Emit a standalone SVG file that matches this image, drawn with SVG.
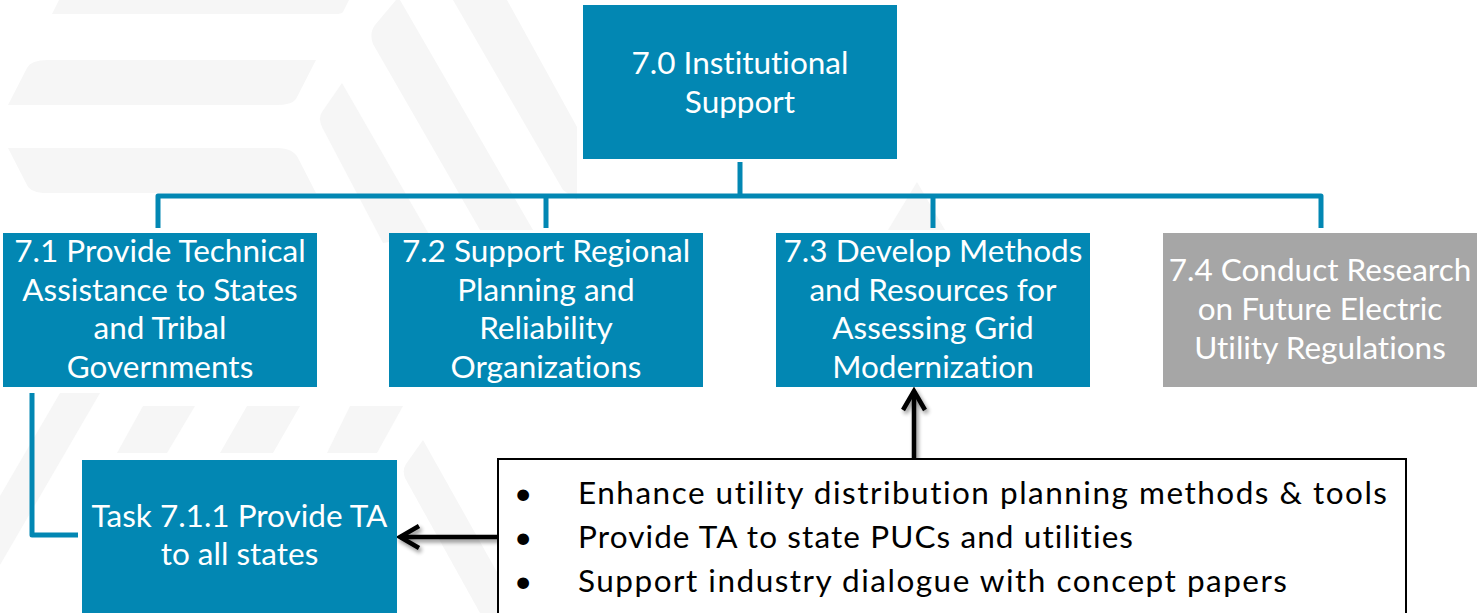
<svg xmlns="http://www.w3.org/2000/svg" width="1479" height="613" viewBox="0 0 1479 613">
  <defs>
    <style>
      .wm { fill: #F6F6F6; }
      .blue { fill: #0287B3; }
      .gray { fill: #A6A6A6; }
      .t { font-family: Lato, "Open Sans", "Liberation Sans", sans-serif; font-size: 31.5px; fill: #FFFFFF; text-anchor: middle; font-variant-ligatures: none; }
      .b { font-family: Lato, "Open Sans", "Liberation Sans", sans-serif; font-size: 31.5px; fill: #000000; font-variant-ligatures: none; }
      .conn { fill: none; stroke: #0287B3; stroke-width: 5; stroke-linejoin: round; }
      .arr { fill: none; stroke: #000000; stroke-width: 4.5; }
    </style>
    <filter id="sh" x="-50%" y="-50%" width="200%" height="200%">
      <feGaussianBlur in="SourceAlpha" stdDeviation="2"/>
      <feOffset dx="2" dy="3" result="o"/>
      <feComponentTransfer><feFuncA type="linear" slope="0.45"/></feComponentTransfer>
      <feMerge><feMergeNode/><feMergeNode in="SourceGraphic"/></feMerge>
    </filter>
    <marker id="head" viewBox="-24 -14 28 28" markerWidth="28" markerHeight="28" refX="0" refY="0" orient="auto" markerUnits="userSpaceOnUse">
      <path d="M-19,-11 L0,0 L-19,11" fill="none" stroke="#000" stroke-width="4.5" stroke-linejoin="miter"/>
    </marker>
  </defs>

  <rect width="1479" height="613" fill="#FFFFFF"/>

  <!-- faint watermark -->
  <g id="watermark">
    <path class="wm" d="M59,0 H349 L343,12 Q341,14 336,14 H52 Z"/>
    <path class="wm" d="M48,60 H316 L296,99 Q292,105 276,105 H8 L27,68 Q31,60 48,60 Z"/>
    <path class="wm" d="M8,148 H277 Q293,148 298,158 L316,193 H47 Q31,193 27,185 Z"/>
    <path class="wm" d="M342,83 L430,236 L383,243 L322,127 Q318,118 322,112 Z"/>
    <path class="wm" d="M396,0 H400 L533,230 L480,230 L373,44 Q369,33 375,25 Z"/>
    <path class="wm" d="M453,0 H507 L577,127 L577,200 L563,190 Z"/>
    <path class="wm" d="M917,182 L945,230 L888,230 Z"/>
    <path class="wm" d="M143,406 H195 L167,453 H117 Z"/>
    <path class="wm" d="M247,406 H300 L273,453 H220 Z"/>
    <path class="wm" d="M350,406 H403 L377,453 H327 Z"/>
    <path class="wm" d="M60,393 H100 L0,565 V496 Z"/>
    <path class="wm" d="M423,440 L520,613 H480 L405,478 Q402,470 406,464 Z"/>
  </g>

  <g id="connectors">
    <path class="conn" d="M740,162 V196"/>
    <path class="conn" d="M158,228 V196 H1321 V228"/>
    <path class="conn" d="M546,196 V228"/>
    <path class="conn" d="M933,196 V228"/>
    <path class="conn" d="M32,393 V535 H78" stroke-width="4.5"/>
    <g filter="url(#sh)">
      <line class="arr" x1="914" y1="459" x2="914" y2="391" marker-end="url(#head)"/>
      <line class="arr" x1="498" y1="537" x2="400" y2="537" marker-end="url(#head)"/>
    </g>
  </g>

  <g id="n70">
    <rect class="blue" x="583" y="5" width="314" height="154"/>
    <text class="t" x="740" y="74">7.0 Institutional</text>
    <text class="t" x="740" y="113">Support</text>
  </g>

  <g id="n71">
    <rect class="blue" x="3" y="233" width="314" height="154"/>
    <text class="t" x="160" y="262">7.1 Provide Technical</text>
    <text class="t" x="160" y="300.5">Assistance to States</text>
    <text class="t" x="160" y="339">and Tribal</text>
    <text class="t" x="160" y="377.5">Governments</text>
  </g>

  <g id="n72">
    <rect class="blue" x="389" y="233" width="314" height="154"/>
    <text class="t" x="546" y="262">7.2 Support Regional</text>
    <text class="t" x="546" y="300.5">Planning and</text>
    <text class="t" x="546" y="339">Reliability</text>
    <text class="t" x="546" y="377.5">Organizations</text>
  </g>

  <g id="n73">
    <rect class="blue" x="776" y="233" width="314" height="154"/>
    <text class="t" x="933" y="262">7.3 Develop Methods</text>
    <text class="t" x="933" y="300.5">and Resources for</text>
    <text class="t" x="933" y="339">Assessing Grid</text>
    <text class="t" x="933" y="377.5">Modernization</text>
  </g>

  <g id="n74">
    <rect class="gray" x="1163" y="233" width="314" height="154"/>
    <text class="t" x="1320" y="281">7.4 Conduct Research</text>
    <text class="t" x="1320" y="320">on Future Electric</text>
    <text class="t" x="1320" y="358.5">Utility Regulations</text>
  </g>

  <g id="n711">
    <rect class="blue" x="82" y="460" width="315" height="160"/>
    <text class="t" x="239.5" y="527">Task 7.1.1 Provide TA</text>
    <text class="t" x="239.5" y="565">to all states</text>
  </g>

  <g id="bullets">
    <rect x="498" y="459" width="908" height="170" fill="#FFFFFF" stroke="#000000" stroke-width="2"/>
    <text class="b" x="514" y="504">•</text>
    <text class="b" x="514" y="548">•</text>
    <text class="b" x="514" y="592">•</text>
    <text class="b" x="578" y="504" textLength="809" lengthAdjust="spacing">Enhance utility distribution planning methods &amp; tools</text>
    <text class="b" x="578" y="548" textLength="555" lengthAdjust="spacing">Provide TA to state PUCs and utilities</text>
    <text class="b" x="578" y="592" textLength="709" lengthAdjust="spacing">Support industry dialogue with concept papers</text>
  </g>
</svg>
